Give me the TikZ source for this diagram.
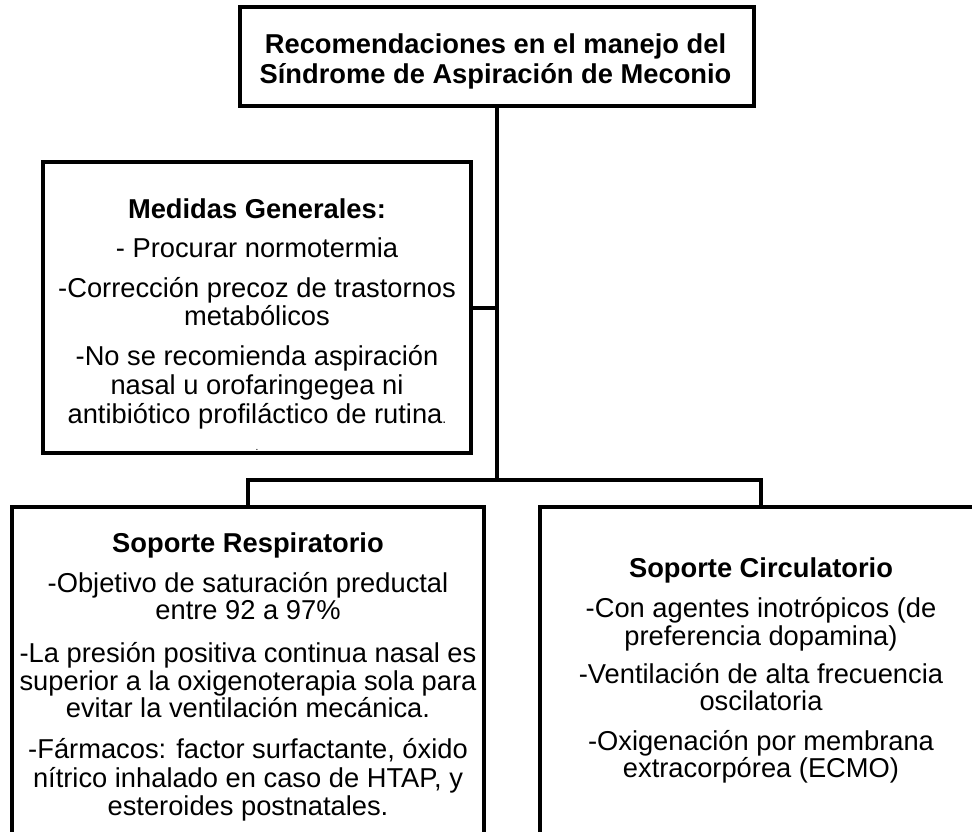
\documentclass[tikz,border=0pt]{standalone}
\usepackage{fontspec}
\setmainfont{Liberation Sans}
\begin{document}
\begin{tikzpicture}[x=1pt,y=-1pt,
  box/.style={draw,line width=4pt,inner sep=0pt,line join=miter,fill=white},
  conn/.style={draw,line width=4pt,line join=miter},
  txt/.style={anchor=base,inner sep=0pt,font=\fontsize{27.3}{30}\selectfont},
  hd/.style={anchor=base,inner sep=0pt,font=\fontsize{27.3}{30}\selectfont\bfseries}]
\useasboundingbox (0,0) rectangle (972,831);
\clip (0,0) rectangle (972,831);
% boxes
\node[box,minimum width=514pt,minimum height=99pt] (top) at (497,56.5) {};
\node[box,minimum width=428pt,minimum height=291pt] (med) at (257,307.5) {};
\node[box,minimum width=472pt,minimum height=373pt] (resp) at (248,693.5) {};
\node[box,minimum width=442pt,minimum height=373pt] (circ) at (761,693.5) {};
% connectors
\coordinate (split) at (497,480);
\draw[conn] (top.south) -- (split);
\draw[conn] (med.east) -- (med.east -| top.south);
\draw[conn] (resp.north) |- (split) -| (circ.north);
% title
\node[hd] (t1) at (495.5,53) {Recomendaciones en el manejo del};
\node[hd] (t2) at (495.5,83) {Síndrome de Aspiración de Meconio};
% medidas generales
\node[hd] (m0) at (257,218) {Medidas Generales:};
\node[txt] (m1) at (257,257) {- Procurar normotermia};
\node[txt] (m2) at (257,297) {-Corrección precoz de trastornos};
\node[txt] (m3) at (257,325) {metabólicos};
\node[txt] (m4) at (257,365) {-No se recomienda aspiración};
\node[txt] (m5) at (257,394) {nasal u orofaringegea ni};
\node[txt] (m6) at (257,423) {antibiótico profiláctico de rutina{\fontsize{14}{14}\selectfont.}};
\node[anchor=base,inner sep=0pt,font=\fontsize{10}{10}\selectfont] (mdot) at (257,450) {.};
% soporte respiratorio
\node[hd] (r0) at (248,552) {Soporte Respiratorio};
\node[txt] (r1) at (248,592) {-Objetivo de saturación preductal};
\node[txt] (r2) at (248,619) {entre 92 a 97\%};
\node[txt] (r3) at (248,662) {-La presión positiva continua nasal es};
\node[txt] (r4) at (248,690) {superior a la oxigenoterapia sola para};
\node[txt] (r5) at (248,717) {evitar la ventilación mecánica.};
\node[txt] (r6) at (248,758) {-Fármacos: factor surfactante, óxido};
\node[txt] (r7) at (248,787) {nítrico inhalado en caso de HTAP, y};
\node[txt] (r8) at (248,815) {esteroides postnatales.};
% soporte circulatorio
\node[hd] (c0) at (761,577) {Soporte Circulatorio};
\node[txt] (c1) at (761,617) {-Con agentes inotrópicos (de};
\node[txt] (c2) at (761,645) {preferencia dopamina)};
\node[txt] (c3) at (761,683) {-Ventilación de alta frecuencia};
\node[txt] (c4) at (761,710) {oscilatoria};
\node[txt] (c5) at (761,750) {-Oxigenación por membrana};
\node[txt] (c6) at (761,777) {extracorpórea (ECMO)};
\end{tikzpicture}
\end{document}
